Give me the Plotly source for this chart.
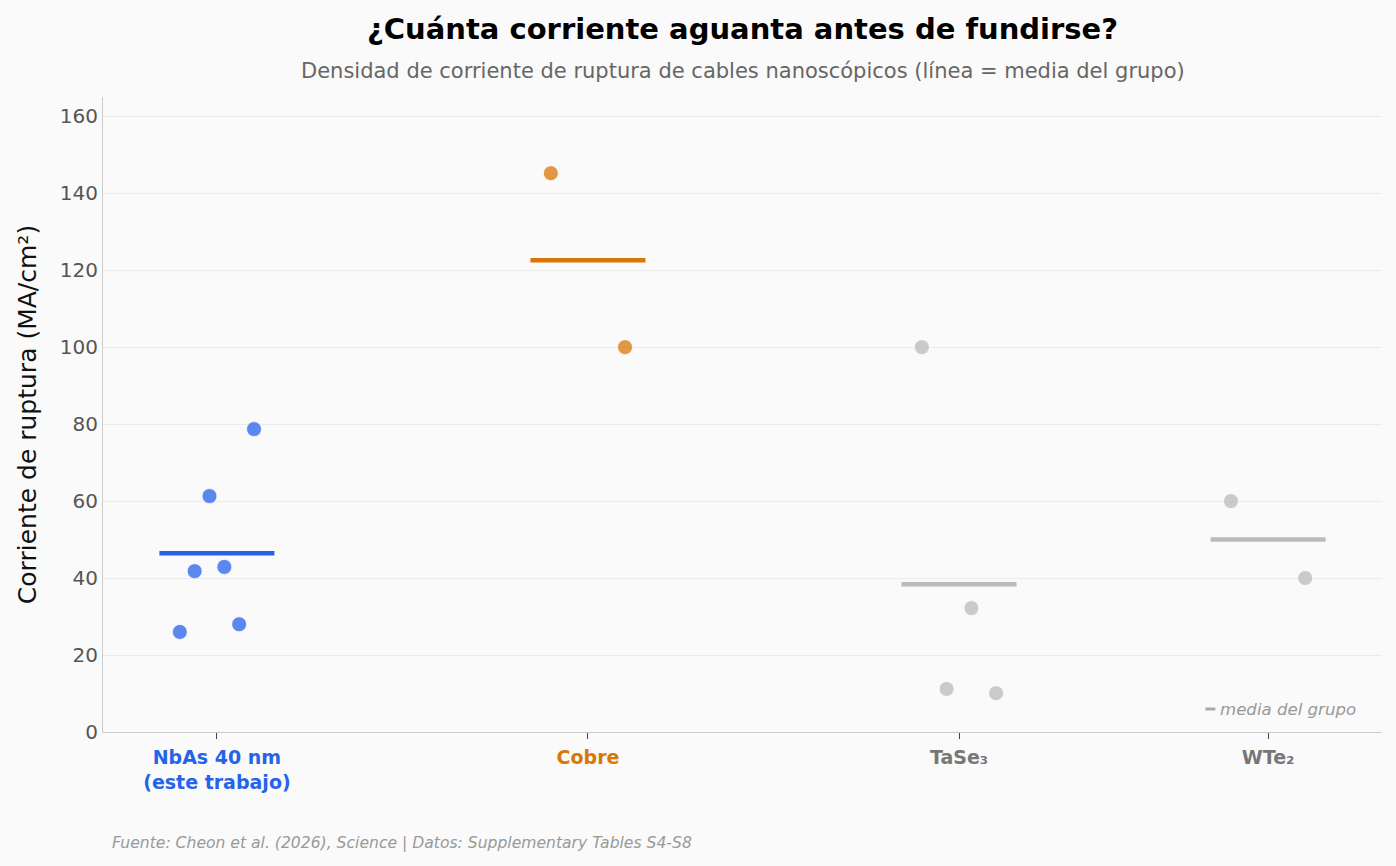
import numpy as np
import plotly.graph_objects as go

# ---- data ----
categories = ["NbAs 40 nm<br>(este trabajo)", "Cobre", "TaSe₃", "WTe₂"]
nbas_vals = [26.0, 41.8, 61.3, 42.9, 28.0, 78.7]
cobre_vals = [145.2, 100.0]
tase3_vals = [100.0, 11.2, 32.2, 10.1]
wte2_vals = [60.0, 40.0]
y_ticks = [0, 20, 40, 60, 80, 100, 120, 140, 160]

# ---- layout / style ----
groups = [nbas_vals, cobre_vals, tase3_vals, wte2_vals]
positions = [0.0, 1.0, 2.0, 2.833]
line_colors = ["#2563eb", "#d97706", "#bbbbbb", "#bbbbbb"]
label_colors = ["#2563eb", "#d97706", "#777777", "#777777"]
FONT = "DejaVu Sans"

fig = go.Figure()
for vals, pos, col in zip(groups, positions, line_colors):
    n = len(vals)
    offs = np.linspace(-0.1, 0.1, n)
    fig.add_trace(go.Scatter(
        x=[pos + o for o in offs], y=vals, mode="markers",
        marker=dict(size=15, color=col, opacity=0.75,
                    line=dict(color="white", width=0.8)),
        showlegend=False, hoverinfo="y"))
    m = float(np.mean(vals))
    fig.add_trace(go.Scatter(
        x=[pos - 0.155, pos + 0.155], y=[m, m], mode="lines",
        line=dict(color=col, width=4.5), showlegend=False, hoverinfo="y"))

ticktext = [f"<span style='color:{c}'><b>{t}</b></span>" for t, c in zip(categories, label_colors)]

fig.update_layout(
    width=1396, height=866,
    paper_bgcolor="#fafafa", plot_bgcolor="#fafafa",
    margin=dict(l=103, r=14, t=97, b=134),
    font=dict(family=FONT, color="#444"),
    xaxis=dict(range=[-0.307, 3.14], tickmode="array", tickvals=positions,
               ticktext=ticktext, tickfont=dict(size=19, family=FONT),
               ticklabelstandoff=2,
               showgrid=False, zeroline=False, showline=True,
               linecolor="#cccccc", linewidth=1,
               ticks="outside", ticklen=6, tickcolor="#444", tickwidth=1),
    yaxis=dict(range=[0, 165], tickmode="array", tickvals=y_ticks,
               tickfont=dict(size=20, color="#555", family=FONT),
               showgrid=True, gridcolor="#ebebeb", gridwidth=1,
               zeroline=False, showline=True, linecolor="#cccccc", linewidth=1,
               ticks="", ticklen=0,
               title=dict(text="Corriente de ruptura (MA/cm²)",
                          font=dict(size=25, color="#111", family=FONT), standoff=16)),
    showlegend=False,
)

fig.add_annotation(xref="paper", yref="paper", x=0.5, y=1, yshift=68,
                   text="<b>¿Cuánta corriente aguanta antes de fundirse?</b>",
                   showarrow=False, font=dict(size=29, color="#000", family=FONT),
                   xanchor="center", yanchor="middle")
fig.add_annotation(xref="paper", yref="paper", x=0.5, y=1, yshift=26,
                   text="Densidad de corriente de ruptura de cables nanoscópicos (línea = media del grupo)",
                   showarrow=False, font=dict(size=21, color="#666", family=FONT),
                   xanchor="center", yanchor="middle")
fig.add_annotation(xref="paper", yref="paper", x=0, y=0, xshift=7, yshift=-111,
                   text="<i>Fuente: Cheon et al. (2026), Science | Datos: Supplementary Tables S4-S8</i>",
                   showarrow=False, font=dict(size=15.6, color="#999", family=FONT),
                   xanchor="left", yanchor="middle")
# legend-like note
fig.add_annotation(xref="paper", yref="paper", x=1, y=0, xshift=-24, yshift=23,
                   text="<i>media del grupo</i>",
                   showarrow=False, font=dict(size=16.6, color="#999", family=FONT),
                   xanchor="right", yanchor="middle")
fig.add_shape(type="line", xref="x", yref="paper",
              x0=2.664, x1=2.691, y0=0.0362, y1=0.0362,
              line=dict(color="#aaaaaa", width=3))

fig.write_html("out.html")
